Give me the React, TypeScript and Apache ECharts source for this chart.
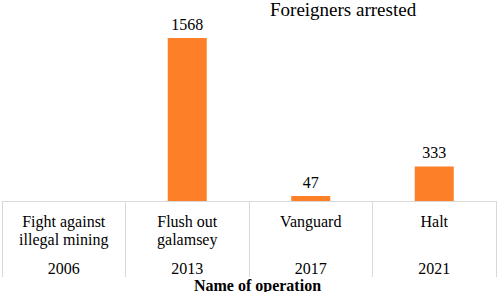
import React, { useEffect, useRef } from "react";
import * as echarts from "echarts";

const operations = ["Fight against\nillegal mining", "Flush out\ngalamsey", "Vanguard", "Halt"];
const years = ["2006", "2013", "2017", "2021"];
const foreignersArrested = [0, 1568, 47, 333];

const FONT = "Liberation Serif, Times New Roman, serif";
const GREY = "#d9d9d9";
const ORANGE = "#fd7f28";

export default function App() {
  const ref = useRef<HTMLDivElement>(null);
  useEffect(() => {
    if (!ref.current) return;
    const chart = echarts.init(ref.current, undefined, { renderer: "svg" });
    chart.setOption({
      animation: false,
      textStyle: { fontFamily: FONT },
      title: {
        text: "Foreigners arrested",
        left: 270,
        top: 0,
        padding: 0,
        textStyle: { fontFamily: FONT, fontSize: 19, fontWeight: "normal", color: "#000" },
      },
      grid: { left: 2, right: 2, top: 14, bottom: 91, containLabel: false, outerBoundsMode: "none" },
      xAxis: [
        {
          type: "category",
          data: operations,
          position: "bottom",
          axisLine: { show: true, lineStyle: { color: GREY, width: 1 } },
          axisTick: { show: true, length: 76, lineStyle: { color: GREY, width: 1 } },
          axisLabel: {
            interval: 0,
            margin: 11,
            fontFamily: FONT,
            fontSize: 16,
            lineHeight: 18.5,
            color: "#000",
          },
        },
        {
          type: "category",
          data: years,
          position: "bottom",
          axisLine: { show: false },
          axisTick: { show: false },
          axisLabel: {
            interval: 0,
            margin: 59,
            fontFamily: FONT,
            fontSize: 16,
            lineHeight: 16,
            color: "#000",
          },
          name: "Name of operation",
          nameLocation: "middle",
          nameGap: 76,
          nameMoveOverlap: false,
          nameTextStyle: {
            fontFamily: FONT,
            fontSize: 16,
            lineHeight: 16,
            fontWeight: "bold",
            color: "#000",
            padding: [0, 0, 0, 17],
          },
        },
      ],
      yAxis: {
        type: "value",
        min: 0,
        max: 1800,
        show: false,
        splitLine: { show: false },
      },
      series: [
        {
          type: "bar",
          xAxisIndex: 0,
          data: foreignersArrested.map((v) => (v === 0 ? null : v)),
          barWidth: 39,
          itemStyle: { color: ORANGE },
          label: {
            show: true,
            position: "top",
            distance: 6,
            fontFamily: FONT,
            fontSize: 16,
            color: "#000",
          },
        },
      ],
    });
    return () => chart.dispose();
  }, []);
  return (
    <div
      ref={ref}
      style={{ position: "fixed", left: 0, top: 0, width: 498, height: 292, background: "#fff" }}
    />
  );
}
